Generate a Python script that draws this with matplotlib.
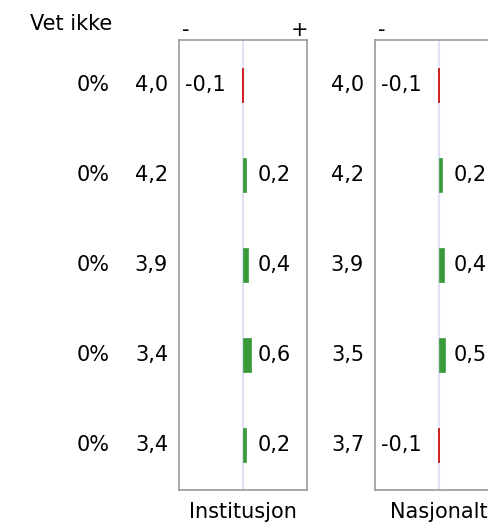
import matplotlib.pyplot as plt

# data
vet_ikke = ["0%", "0%", "0%", "0%", "0%"]
inst_snitt = ["4,0", "4,2", "3,9", "3,4", "3,4"]
inst_diff = [-0.1, 0.2, 0.4, 0.6, 0.2]
nasj_snitt = ["4,0", "4,2", "3,9", "3,5", "3,7"]
nasj_diff = [-0.1, 0.2, 0.4, 0.5, -0.1]
panel_titles = ["Institusjon", "Nasjonalt"]

W, H = 488, 523
fig = plt.figure(figsize=(W / 100, H / 100), dpi=100)
plt.rcParams['font.family'] = ['DejaVu Sans']
fs = 15

def fmt(v):
    return f"{v:.1f}".replace(".", ",")

def panel(left, snitt, diff, title, first=False):
    ax = fig.add_axes([left / W, 33 / H, 128 / W, 450 / H])
    rows = list(range(len(diff)))
    colors = ["#cc0000" if d < 0 else "#389a38" for d in diff]
    ax.axvline(0, color="#e2e2f4", lw=1.6, zorder=1)
    ax.barh(rows, diff, height=0.37, color=colors, edgecolor=colors, lw=0.5, zorder=2)
    ax.set_xlim(-5, 5)
    ax.set_ylim(len(diff) - 0.5, -0.5)
    ax.set_xticks([])
    ax.set_yticks([])
    for s in ax.spines.values():
        s.set_color("#999999")
        s.set_linewidth(1.2)
    tr = ax.get_yaxis_transform()
    for r, (s, d) in enumerate(zip(snitt, diff)):
        ax.text(-0.085, r, s, transform=tr, ha="right", va="center", fontsize=fs, clip_on=False)
        if d < 0:
            ax.text(0.045, r, fmt(d), transform=tr, ha="left", va="center", fontsize=fs)
        else:
            ax.text(0.615, r, fmt(d), transform=tr, ha="left", va="center", fontsize=fs)
    ax.text(0.5, -0.062, title, transform=ax.transAxes, ha="center", va="baseline", fontsize=fs)
    ax.text(0.05, 1.008, "-", transform=ax.transAxes, ha="center", va="baseline", fontsize=fs)
    if first:
        ax.text(0.94, 1.008, "+", transform=ax.transAxes, ha="center", va="baseline", fontsize=fs)
        for r, v in enumerate(vet_ikke):
            ax.text(-0.54, r, v, transform=tr, ha="right", va="center", fontsize=fs, clip_on=False)
        ax.text(-0.52, 1.022, "Vet ikke", transform=ax.transAxes, ha="right", va="baseline", fontsize=fs)
    return ax

panel(179, inst_snitt, inst_diff, panel_titles[0], first=True)
panel(375, nasj_snitt, nasj_diff, panel_titles[1])

fig.savefig("out.png", dpi=100)
